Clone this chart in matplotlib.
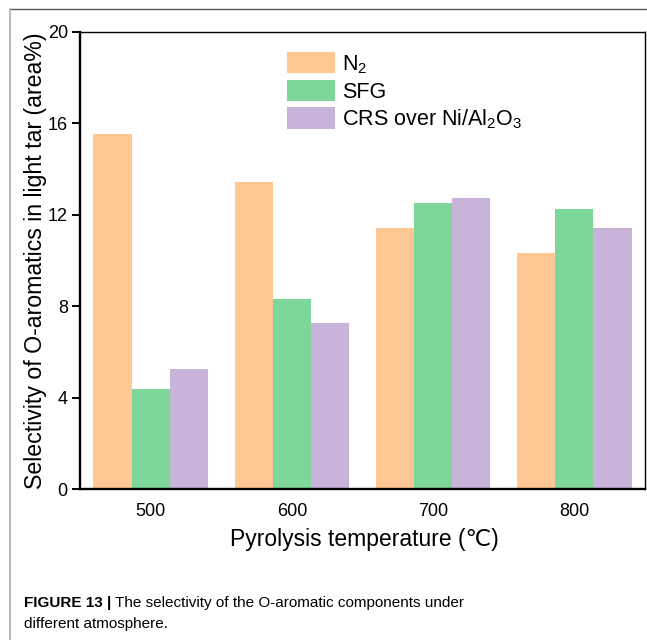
import matplotlib
matplotlib.use("Agg")
import matplotlib.pyplot as plt
import numpy as np

plt.rcParams['font.family'] = ['Liberation Sans', 'DejaVu Sans']
plt.rcParams['mathtext.fontset'] = 'custom'
plt.rcParams['mathtext.rm'] = 'Liberation Sans'
plt.rcParams['mathtext.it'] = 'Liberation Sans'

# selectivity of O-aromatics in light tar (area%)
temps = ['500', '600', '700', '800']
n2 = [15.55, 13.43, 11.42, 10.33]
sfg = [4.38, 8.31, 12.52, 12.25]
crs = [5.25, 7.26, 12.73, 11.42]
labels = ['N$_2$', 'SFG', 'CRS over Ni/Al$_2$O$_3$']
colors = ['#FEC794', '#7ED79A', '#C8B3D9']

fig = plt.figure(figsize=(6.47, 6.40), dpi=100)

# frame lines of the page
fig.add_artist(plt.Line2D([10/647, 1], [1 - 9/640, 1 - 9/640], color='#555555', lw=1.0))
fig.add_artist(plt.Line2D([10/647, 10/647], [0, 1 - 9/640], color='#bbbbbb', lw=1.5))

ax = fig.add_axes([80/647, 151/640, 565/647, 457/640])
x = np.arange(len(temps))
w = 0.27
for i, (vals, lab, c) in enumerate(zip([n2, sfg, crs], labels, colors)):
    ax.bar(x + (i - 1) * w, vals, w, color=c, label=lab)

ax.set_xlim(-0.5, 3.5)
ax.set_ylim(0, 20)
ax.set_yticks([0, 4, 8, 12, 16, 20])
ax.set_xticks(x)
ax.set_xticklabels(temps)
ax.tick_params(axis='y', direction='out', length=5.8, width=1.4, labelsize=13, pad=3)
ax.tick_params(axis='x', length=0, labelsize=13, pad=10)
for s in ['left', 'bottom']:
    ax.spines[s].set_linewidth(1.7)
for s in ['top', 'right']:
    ax.spines[s].set_linewidth(1.0)

ax.set_xlabel('Pyrolysis temperature (℃)', fontsize=16.5)
ax.xaxis.set_label_coords(0.503, -0.085)
ax.set_ylabel('Selectivity of O-aromatics in light tar (area%)', fontsize=16.7)
ax.yaxis.set_label_coords(-0.058, 0.5)

leg = ax.legend(loc='upper left', bbox_to_anchor=(287/647, 1 - 52/640),
                bbox_transform=fig.transFigure, frameon=False, fontsize=15.5,
                borderpad=0, borderaxespad=0, handlelength=2.25, handleheight=1.15,
                labelspacing=0.2, handletextpad=0.3)

# caption below the chart
t1 = fig.text(24/647, 1 - 607/640, 'FIGURE 13 |', fontsize=11, fontweight='bold',
              va='baseline')
ax.annotate('The selectivity of the O-aromatic components under',
            xy=(1, 0), xycoords=t1, xytext=(4, 0), textcoords='offset pixels',
            fontsize=11, va='bottom', annotation_clip=False)
fig.text(24/647, 1 - 628/640, 'different atmosphere.', fontsize=11, va='baseline')

fig.savefig('out.png', dpi=100)
